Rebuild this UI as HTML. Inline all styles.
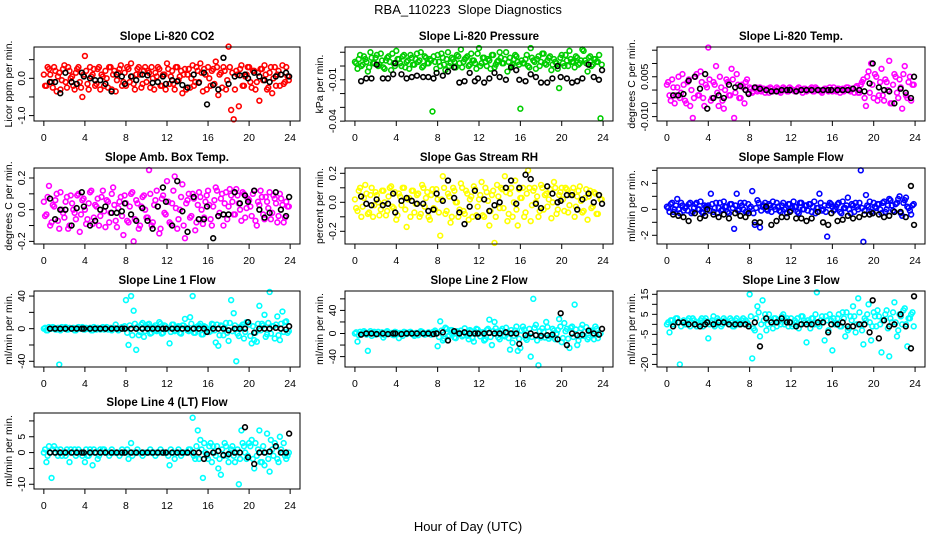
<!DOCTYPE html>
<html><head><meta charset="utf-8"><style>
html,body{margin:0;padding:0;background:#fff;}
svg{display:block;font-family:"Liberation Sans",Arial,sans-serif;}
</style></head><body>
<svg id="chart" width="936" height="540" viewBox="0 0 936 540" xmlns="http://www.w3.org/2000/svg">
<rect width="936" height="540" fill="#fff"/>
<text x="468" y="14" text-anchor="middle" font-size="13">RBA_110223&#160; Slope Diagnostics</text>
<text x="468" y="531" text-anchor="middle" font-size="13">Hour of Day (UTC)</text>
</svg>
<script>
const colorTimes = [0,.25,.5,.75,1,1.25,1.5,1.75,2,2.25,2.5,2.75,3,3.25,3.5,3.75,4,4.25,4.5,4.75,5,5.25,5.5,5.75,6,6.25,6.5,6.75,7,7.25,7.5,7.75,8,8.25,8.5,8.75,9,9.25,9.5,9.75,10,10.25,10.5,10.75,11,11.25,11.5,11.75,12,12.25,12.5,12.75,13,13.25,13.5,13.75,14,14.25,14.5,14.75,15,15.25,15.5,15.75,16,16.25,16.5,16.75,17,17.25,17.5,17.75,18,18.25,18.5,18.75,19,19.25,19.5,19.75,20,20.25,20.5,20.75,21,21.25,21.5,21.75,22,22.25,22.5,22.75,23,23.25,23.5,23.75];
const colorTimesB = [.12,.37,.62,.87,1.12,1.37,1.62,1.87,2.12,2.37,2.62,2.87,3.12,3.37,3.62,3.87,4.12,4.37,4.62,4.87,5.12,5.37,5.62,5.87,6.12,6.37,6.62,6.87,7.12,7.37,7.62,7.87,8.12,8.37,8.62,8.87,9.12,9.37,9.62,9.87,10.12,10.37,10.62,10.87,11.12,11.37,11.62,11.87,12.12,12.37,12.62,12.87,13.12,13.37,13.62,13.87,14.12,14.37,14.62,14.87,15.12,15.37,15.62,15.87,16.12,16.37,16.62,16.87,17.12,17.37,17.62,17.87,18.12,18.37,18.62,18.87,19.12,19.37,19.62,19.87,20.12,20.37,20.62,20.87,21.12,21.37,21.62,21.87,22.12,22.37,22.62,22.87,23.12,23.37,23.62,23.87];
const blackTimes = [0.6,1.1,1.6,2.1,2.7,3.2,3.7,3.9,4.5,5.0,5.5,6.0,6.6,7.1,7.6,7.9,8.5,9.0,9.6,10.1,10.6,11.1,11.6,11.9,12.5,13.0,13.5,14.0,14.6,15.1,15.6,15.9,16.5,17.0,17.5,18.0,18.6,19.1,19.6,19.9,20.5,21.0,21.5,22.0,22.6,23.1,23.6,23.9];
const xTicks = [0,4,8,12,16,20,24];

const co2Color = [0.1,-0.2,0.25,-0.1,0.3,-0.35,0.15,-0.05,0.35,-0.25,0.2,0.05,-0.3,0.25,-0.1,-0.5,0.6,-0.15,0.3,0.1,-0.2,0.25,-0.3,0.05,0.2,-0.25,0.3,0.1,-0.35,0.15,0.35,-0.1,-0.2,0.25,0.4,-0.15,0.1,0.3,-0.25,0.2,-0.1,0.15,0.3,-0.3,0.05,0.25,-0.2,0.1,0.4,-0.15,0.2,-0.3,0.3,0.05,-0.4,0.25,0.1,-0.25,0.35,-0.1,0.2,0.4,-0.35,0.1,0.3,-0.2,0.25,0.45,-0.45,0.15,0.3,-0.3,0.85,-0.85,-1.1,0.2,-0.75,0.35,-0.2,0.1,0.3,-0.25,0.2,-0.1,-0.6,0.25,0.35,-0.3,0.15,-0.4,0.3,0.1,-0.2,0.35,-0.1,0.05];
const co2ColorB = [-0.2,0.3,0.1,-0.25,0.2,0.05,-0.3,0.25,-0.1,0.3,0.0,-0.2,0.15,0.3,-0.25,0.1,0.2,-0.3,0.05,0.25,-0.15,0.3,0.1,-0.2,0.0,0.3,-0.3,0.2,-0.05,0.25,-0.2,0.15,0.3,-0.1,0.05,-0.3,0.25,0.1,-0.15,0.3,0.2,-0.25,0.0,0.15,0.3,-0.2,0.1,-0.3,0.25,0.05,-0.15,0.3,-0.05,0.2,0.1,-0.3,0.25,0.0,-0.2,0.3,-0.1,0.15,0.25,-0.3,0.0,0.2,-0.15,0.3,0.1,-0.25,0.2,-0.05,0.3,0.15,-0.3,0.1,0.25,-0.2,0.05,0.3,-0.1,0.2,-0.3,0.15,0.25,-0.05,0.1,-0.25,0.3,0.0,-0.2,0.2,0.1,-0.15,0.3,-0.05];
const co2Black = [-0.1,-0.1,-0.4,0.15,-0.1,-0.15,0.15,0.05,0,-0.05,-0.05,-0.15,-0.35,0.1,0.05,-0.15,0.05,-0.05,0.1,0.08,-0.12,-0.1,0.05,-0.15,-0.05,-0.08,-0.18,-0.25,0.1,-0.12,0.15,-0.7,-0.18,-0.3,0.55,-0.15,0.05,0.08,0.1,0,0.15,0.05,-0.05,-0.1,0.05,0.1,0.15,0.05];
const pressColor = [3,-2,8,1,5,-4,10,2,6,0,9,-1,4,7,-3,2,11,5,0,8,3,-2,6,1,9,4,-1,7,2,5,-33,3,8,0,6,-3,10,2,5,-1,7,12,3,6,0,9,4,-2,13,2,6,0,4,8,-1,3,10,2,5,-4,6,1,8,3,-31,2,5,0,13,4,-2,7,3,9,1,6,-3,5,2,-16,8,0,4,11,3,-1,6,2,12,4,-4,7,1,5,3,-38];
const pressColorB = [2,5,0,7,3,-1,6,2,8,1,4,-2,6,3,9,0,5,2,7,-1,4,8,1,5,3,10,0,6,2,4,7,-2,3,9,1,5,0,6,3,8,2,-1,5,7,1,4,2,9,0,6,3,5,-2,8,1,4,6,2,10,3,0,5,7,1,4,2,8,-1,6,3,5,0,9,2,4,7,1,3,-2,6,2,8,0,5,3,7,1,4,11,2,6,0,5,3,8,1];
const pressBlack = [-11,-9,-9,1,-9,-9,-6,2,-6,-9,-8,-7,-8,-8,-9,-5,-7,-4,-1,-12,-11,-5,-11,-9,-12,-9,-5,-8,-10,-1,-3,-10,-11,-6,-8,-12,-12,-9,0,-8,-9,-12,-11,-9,1,-8,-10,-3];
const tempColor = [2,-2,4,-5,1,-3,6,-4,3,-6,-10.5,5,-2,7,-3,2,16,-4,3,9,-6,1,-7,4,-2,8,-10.5,6,-3,2,-5,4,1,-1,0.5,-0.5,1,0,-1,0.5,1,-0.5,0,0.5,-1,1,0,-0.5,0.5,0,-0.5,1,0,0.5,-0.5,0,1,-0.5,0.5,0,-1,0.5,0,1,-0.5,0,0.5,-1,0.5,0,1,-0.5,0.5,1,-1,2,4,-6,7,10,-3,5,-2,8,-4,3,11,-5,6,-1,4,-7,9,-3,5,2];
const tempColorB = [3,-4,1,-2,5,-1,2,-5,4,0,-3,6,-2,3,-6,1,4,-3,2,-1,5,-4,0,3,-2,4,-1,2,-3,1,3,-1,0.5,-0.5,1,0,-0.5,0.5,0,-1,0.5,0,1,-0.5,0,0.5,-0.5,1,0,-0.5,0.5,0,-1,0.5,0,0.5,-0.5,1,0,-0.5,0,0.5,-0.5,0,1,-0.5,0.5,0,-0.5,1,0,0.5,-1,1.5,-1,3,-3,5,-1,2,6,-4,3,-2,4,0,-5,2,5,-3,1,6,-2,3,-4,2];
const tempBlack = [-2,-2,-1.5,3.5,5,0.5,6,-7,-3,-2,-3,2,1,1.5,0,-1.5,1,0.5,0,-0.5,-0.5,0,0,0,-0.5,0,0,0,0,0,0,0,0,0,0,0.5,0,-0.5,2.5,10,1,0,-0.5,-5,0.5,-1,-3,5];
const ambColor = [0.05,-0.03,0.15,-0.08,0.02,0.1,-0.12,0.0,-0.05,0.08,-0.1,0.04,-0.02,0.09,-0.14,0.06,0.0,-0.06,0.11,-0.09,0.03,0.07,-0.04,0.12,-0.11,0.05,-0.02,0.14,-0.07,0.01,0.08,-0.16,0.04,-0.08,0.1,-0.2,0.06,-0.12,0.02,0.09,-0.05,0.25,-0.1,0.03,0.12,-0.15,0.07,-0.02,0.18,-0.08,0.04,0.21,-0.12,0.0,0.16,-0.18,0.06,-0.05,0.1,-0.13,0.03,0.08,-0.09,0.05,0.12,-0.06,0.02,0.14,-0.04,0.07,-0.1,0.11,0.02,0.09,-0.03,0.13,0.04,-0.07,0.1,0.01,0.06,-0.04,0.12,-0.1,0.03,0.08,-0.06,0.05,0.11,-0.02,0.07,-0.08,0.1,0.03,-0.05,0.02];
const ambColorB = [-0.04,0.08,-0.1,0.03,0.06,-0.07,0.11,-0.02,0.05,-0.12,0.09,0.0,-0.06,0.1,-0.03,0.07,-0.09,0.04,0.12,-0.05,0.02,-0.1,0.08,-0.01,0.06,-0.08,0.1,0.03,-0.11,0.05,-0.04,0.09,-0.07,0.02,0.11,-0.06,0.04,-0.1,0.08,0.0,-0.05,0.1,-0.08,0.06,0.02,-0.12,0.09,-0.03,0.05,-0.09,0.12,0.01,-0.06,0.08,-0.1,0.04,0.1,-0.04,0.07,-0.08,0.11,0.0,-0.05,0.09,0.03,-0.1,0.06,0.12,-0.02,0.1,0.04,-0.06,0.13,0.05,-0.03,0.09,0.0,0.11,-0.05,0.07,0.02,0.1,-0.07,0.05,0.12,-0.03,0.08,0.01,-0.06,0.09,0.04,-0.04,0.07,-0.08,0.05,0.02];
const ambBlack = [0.07,-0.06,0.0,0.0,-0.1,0.01,0.11,0.02,-0.1,-0.07,0.0,0.02,-0.02,-0.02,-0.01,0.04,-0.03,-0.07,0.01,-0.07,-0.12,0.02,0.14,0.05,-0.1,0.18,-0.01,-0.14,0.08,-0.06,-0.06,0.02,-0.18,-0.04,-0.03,-0.03,0.11,0.04,0.09,0.05,0.12,0.0,-0.05,-0.02,0.11,0.0,-0.04,0.08];
const rhColor = [0.02,-0.06,0.1,-0.03,0.12,-0.08,0.05,-0.1,0.07,0.0,-0.05,0.08,-0.09,0.04,0.11,-0.04,-0.12,0.06,-0.02,0.1,-0.17,0.03,0.08,-0.07,0.05,-0.1,0.12,-0.03,0.07,-0.12,0.09,-0.05,0.02,-0.23,0.18,-0.08,0.06,-0.14,0.1,0.0,-0.1,0.13,-0.06,0.08,-0.12,0.04,0.11,-0.09,0.02,0.14,-0.1,0.07,-0.16,0.05,-0.28,0.12,-0.04,0.09,0.18,-0.13,0.06,-0.1,0.15,-0.16,0.03,0.1,-0.07,0.22,-0.13,0.08,0.0,-0.1,0.12,-0.05,0.06,0.02,-0.11,0.14,-0.08,0.05,0.1,-0.06,0.09,-0.02,0.07,-0.1,0.04,0.11,-0.07,0.03,-0.12,0.08,-0.03,0.06,-0.08,0.02];
const rhColorB = [-0.04,0.08,-0.1,0.03,0.06,-0.07,0.1,-0.02,0.05,-0.09,0.08,0.0,-0.06,0.1,-0.03,0.07,-0.09,0.04,0.1,-0.05,0.02,-0.1,0.08,-0.01,0.06,-0.08,0.1,0.03,-0.1,0.05,-0.04,0.09,-0.07,0.02,0.1,-0.06,0.04,-0.1,0.08,0.0,-0.05,0.1,-0.08,0.06,0.02,-0.1,0.09,-0.03,0.05,-0.09,0.1,0.01,-0.06,0.08,-0.1,0.04,0.1,-0.04,0.07,-0.08,0.1,0.0,-0.05,0.09,0.03,-0.1,0.06,0.1,-0.02,0.1,0.04,-0.06,0.1,0.05,-0.03,0.09,0.0,0.1,-0.05,0.07,0.02,0.1,-0.07,0.05,0.1,-0.03,0.08,0.01,-0.06,0.09,0.04,-0.04,0.07,-0.08,0.05,0.02];
const rhBlack = [0.04,-0.01,-0.02,0.02,-0.02,-0.01,0.06,-0.07,0.01,0.03,0.01,-0.01,-0.01,-0.06,-0.05,0.06,0.01,0.15,0.03,-0.07,-0.15,-0.03,0.08,-0.1,0.02,-0.06,-0.02,0.0,0.1,0.15,-0.01,0.1,0.19,0.16,-0.01,-0.04,0.11,0.06,0.0,0.01,0.05,0.05,-0.05,0.02,0.06,0.0,0.05,-0.01];
const flowColor = [0.2,-0.2,0.5,0.0,0.8,-0.3,0.3,0.1,-0.1,0.5,-0.2,0.4,0.0,0.6,-0.3,0.2,0.3,1.2,-0.2,0.5,0.1,-0.1,0.6,0.2,-0.3,0.4,-1.5,1.2,0.0,0.3,0.5,-0.2,0.1,1.4,-1.2,0.7,-1.4,0.2,0.5,-0.1,0.3,0.6,0.0,0.2,-0.2,0.5,0.1,0.4,-0.1,0.6,0.2,-0.3,0.5,0.0,0.3,0.4,-0.2,0.6,0.1,1.2,-0.1,0.3,-2.1,0.5,0.2,0.0,0.4,-0.2,0.6,0.1,0.9,-0.3,0.3,0.5,0.0,3.0,-2.5,1.1,0.2,-0.2,0.5,0.1,0.4,-0.3,0.6,0.0,0.8,0.3,-0.2,0.5,1.0,-0.5,0.7,0.2,-0.1,0.3];
const flowColorB = [0.1,0.4,-0.2,0.3,0.0,0.5,-0.1,0.2,0.4,-0.3,0.1,0.5,0.0,-0.2,0.3,0.2,-0.1,0.4,0.1,-0.3,0.5,0.0,0.2,-0.2,0.4,0.1,0.3,-0.1,0.5,0.0,-0.2,0.4,0.2,-0.3,0.1,0.5,-0.1,0.3,0.0,0.4,-0.2,0.2,0.5,-0.1,0.3,0.0,-0.3,0.4,0.1,0.2,-0.2,0.5,0.0,0.3,-0.1,0.4,0.2,-0.3,0.1,0.5,0.0,-0.2,0.3,0.4,-0.1,0.2,0.5,-0.3,0.1,0.3,0.0,0.4,-0.2,0.2,0.5,0.1,-0.1,0.3,0.6,-0.3,0.2,0.4,0.0,0.5,-0.2,0.3,0.7,-0.1,0.4,0.8,-0.3,0.5,0.9,0.1,-0.4,0.4];
const flowBlack = [-0.4,-0.5,-0.6,-0.9,-0.3,-0.7,-0.5,0.0,-0.4,-0.6,-0.4,-0.7,-0.3,-0.5,-0.6,-0.3,-1.0,-1.0,0.2,-1.2,-0.9,-0.6,-0.6,-0.2,-0.7,-0.7,-0.9,-0.7,-0.2,-1.0,-1.2,-0.3,-0.9,-0.8,-0.5,-0.7,-0.6,-0.4,-0.4,-0.3,-0.4,-0.6,-0.5,-0.2,-0.2,-0.6,1.8,-1.2];
const line1Color = [0,-2,2,0,1,-1,-44,2,0,-1,1,0,-2,1,0,2,-1,0,1,-2,0,1,-1,2,0,-1,1,0,5,-2,1,0,35,-20,40,22,-26,-8,5,-10,3,6,-5,2,-3,8,-6,4,0,-18,5,-3,2,-5,4,12,-2,14,40,-5,3,6,-7,2,0,-3,5,-17,-21,4,-8,7,-15,35,19,-40,-9,3,-12,8,5,-18,-14,-16,28,6,17,-7,45,3,-12,15,-14,21,8,-5];
const line1ColorB = [1,-2,0,2,-1,1,-2,0,2,-1,0,1,-2,2,0,-1,1,0,-2,2,-1,0,1,-1,2,0,-2,1,0,-1,2,3,-5,4,-8,6,2,-4,7,-3,5,-6,1,4,-2,6,-5,3,0,-4,5,-2,3,-6,4,1,-3,6,-5,2,4,-7,3,0,-4,6,-2,5,-8,3,1,-5,7,-3,4,-6,2,5,-4,8,-9,3,-5,6,-2,4,-10,7,-6,3,5,-8,6,-4,9,-3];
const line1Black = [0,0,0,0,0,0,0,0,0,0,0,0,0,0,0,0,0,0,0,0,0,0,0,0,0,0,0,0,0,0,0,-4,0,0,0,-2,0,0,0,8,-5,0,0,0,1,0,-1,3];
const line2Color = [0,-14,3,0,2,-30,4,1,-2,3,0,-7,2,0,1,-3,2,-8,0,3,-1,2,0,-4,1,0,3,-2,1,0,2,5,-22,21,-12,10,-5,6,3,-8,2,5,-3,0,-10,4,-14,8,0,2,-12,6,24,-20,20,3,-10,8,-5,0,-28,-16,5,-30,-25,12,-8,-4,-40,60,15,-55,-7,3,20,-9,-5,5,0,25,-15,18,8,-25,12,50,-20,-5,15,3,-10,5,-3,12,-8,0];
const line2ColorB = [2,-3,0,4,-2,1,-4,3,0,-1,2,-3,4,0,-2,3,-1,1,-4,2,0,3,-2,1,-3,4,0,-1,2,-2,3,1,-6,5,-9,8,-3,6,-7,4,1,-5,9,-4,6,-8,3,7,-5,2,-10,8,-6,4,9,-7,5,-3,10,-8,6,-4,12,-9,5,7,-11,8,-6,10,-12,4,9,-7,11,-5,8,-10,6,12,-8,4,-9,10,-6,7,-12,9,-4,11,-7,5,-10,8];
const line2Black = [-2,0,0,-1,0,-1,0,0,-1,0,0,0,0,0,-1,0,2,-12,4,0,2,0,0,0,0,1,0,0,2,0,0,-18,-3,0,-3,-4,-3,-2,-10,35,-20,0,-3,-2,5,0,-2,8];
const line3Color = [0,-4,2,1,3,-20,1,0,2,-1,3,0,1,2,-1,3,-7,1,4,0,2,-1,3,1,0,2,-1,3,1,2,0,1,15,-17,-3,9,-6,12,5,0,2,-2,3,1,0,5,2,-1,3,0,1,-2,4,2,-9,1,3,0,16,-1,4,-8,2,5,-13,0,3,-1,6,-6,-3,4,9,-4,13,0,-10,2,10,-8,6,-1,4,-14,2,7,-16,1,11,-6,5,0,8,-11,3,6];
const line3ColorB = [1,2,0,3,1,-1,2,0,3,1,2,-1,0,3,2,1,0,2,-1,3,1,0,2,1,3,-1,2,0,1,3,2,0,4,-2,3,6,0,2,-3,5,1,3,-1,2,4,0,3,1,-1,2,3,0,4,1,2,-2,3,5,0,2,1,4,-3,2,3,0,5,-1,3,6,-2,2,4,0,6,-3,3,5,1,-1,4,7,0,2,5,-2,3,6,1,-3,4,7,0,3,5,-1];
const line3Black = [-1,1,1,0,0,-1,0,1,0,1,1,0,0,0,0,-1,1,-11,3,1,1,3,1,1,-1,0,0,0,1,1,-4,0,0,1,-1,-1,0,0,-4,12,-7,2,-1,0,5,-1,-12,14];
const line4Color = [0,-3,2,-8,2,1,0,-1,0,1,-3,0,1,0,0,-1,-3,-1,1,-4,0,-2,1,1,0,0,0,0,0,0,0,0,0,-2,3,0,0,0,0,0,0,0,0,0,0,0,0,0,0,-4,0,-2,0,0,0,0,0,1,11,-2,7,4,-8,0,-2,3,2,-1,-5,-7,-1,2,-3,1,-1,0,-10,7,2,-2,3,4,-5,-1,7,-3,-4,6,-6,1,3,-2,5,0,-1,-1];
const line4ColorB = [1,-1,0,1,0,-1,1,0,-1,0,1,0,-1,1,0,0,1,-1,0,1,0,-1,0,1,0,-1,1,0,0,-1,1,0,1,0,-1,0,1,0,-1,0,0,1,0,-1,0,1,0,0,-1,1,0,0,1,-1,0,0,1,0,-1,2,-2,1,3,-1,2,-3,0,2,-2,1,3,-1,0,2,-3,1,-2,3,0,-1,2,-2,3,1,-3,2,0,-2,4,-1,2,-3,1,3,-2,0];
const line4Black = [0,0,0,0,0,0,0,0,0,0,0,0,0,0,0,0,0,0,0,0,0,0,0,0,0,0,0,0,0,0,-2,-0.5,0,0.5,-0.8,-0.5,0,0,8,-1.5,-3.6,0,0,0.3,2,0,0,6];

const panelTitles = ["Slope Li-820 CO2","Slope Li-820 Pressure","Slope Li-820 Temp.","Slope Amb. Box Temp.","Slope Gas Stream RH","Slope Sample Flow","Slope Line 1 Flow","Slope Line 2 Flow","Slope Line 3 Flow","Slope Line 4 (LT) Flow"];
const yTitles = ["Licor ppm per min.","kPa per min.","degrees C per min.","degrees C per min.","percent per min.","ml/min per min.","ml/min per min.","ml/min per min.","ml/min per min.","ml/min per min."];
const yDomains = [[-1.145,0.84],[-39.9,13.8],[-11.65,16.2],[-0.2165,0.263],[-0.2876,0.2366],[-2.67,3.18],[-47,46.2],[-58,73.6],[-21.3,16.65],[-11.5,12.5]];
const yTickVals = [[-1,-0.5,0,0.5],[10,0,-10,-20,-30,-40],[15,10,5,0,-5,-10],[0.2,0.1,0,-0.1,-0.2],[0.2,0.1,0,-0.1,-0.2],[3,2,1,0,-1,-2],[40,20,0,-20,-40],[60,40,20,0,-20,-40],[15,10,5,0,-5,-10,-15,-20],[10,5,0,-5,-10]];
const yTickLabels = [{"-1":"-1.0","0":"0.0"},{"-10":"-0.01","-40":"-0.04"},{"5":"0.005","-10":"-0.010"},{"0.2":"0.2","0":"0.0","-0.2":"-0.2"},{"0.2":"0.2","0":"0.0","-0.2":"-0.2"},{"2":"2","0":"0","-2":"-2"},{"40":"40","0":"0","-40":"-40"},{"40":"40","0":"0","-40":"-40"},{"15":"15","5":"5","-5":"-5","-20":"-20"}, {"5":"5","0":"0","-10":"-10"}];
const colorSeries = [co2Color,pressColor,tempColor,ambColor,rhColor,flowColor,line1Color,line2Color,line3Color,line4Color];
const colorSeriesB = [co2ColorB,pressColorB,tempColorB,ambColorB,rhColorB,flowColorB,line1ColorB,line2ColorB,line3ColorB,line4ColorB];
const blackSeries = [co2Black,pressBlack,tempBlack,ambBlack,rhBlack,flowBlack,line1Black,line2Black,line3Black,line4Black];
const seriesColors = ["#ff0000","#00cd00","#ff00ff","#ff00ff","#ffff00","#0000ff","#00ffff","#00ffff","#00ffff","#00ffff"];
const slugs = ["co2","pressure","licor-temp","amb-box-temp","gas-stream-rh","sample-flow","line1-flow","line2-flow","line3-flow","line4-flow"];

const NS="http://www.w3.org/2000/svg";
const svg=document.getElementById('chart');
const rowTop=[47,168,291,413], rowBot=[121,244,367,489];
const colL=[34,345,657], colR=[300,613,925];
function mk(tag,attrs,parent){const e=document.createElementNS(NS,tag);for(const k in attrs)e.setAttribute(k,attrs[k]);(parent||svg).appendChild(e);return e;}

for(let p=0;p<10;p++){
  const r=Math.floor(p/3), c=p%3;
  const L=colL[c],R=colR[c],T=rowTop[r],B=rowBot[r];
  const g=mk('g',{});
  
  
  const xs=h=>L+(h+0.96)/25.92*(R-L);
  const dom=yDomains[p];
  const ys=v=>B-(v-dom[0])/(dom[1]-dom[0])*(B-T);
  const t=mk('text',{x:(L+R)/2,y:T-7,'text-anchor':'middle','font-size':'11.5','font-weight':'bold'},g);
  t.textContent=panelTitles[p];
  
  
  const yt=mk('text',{x:0,y:0,'text-anchor':'middle','font-size':'10.5',transform:`translate(${L-22},${(T+B)/2}) rotate(-90)`},g);
  yt.textContent=yTitles[p];
  
  
  const xa=mk('g',{stroke:'#000','stroke-width':'1'},g);
  
  
  mk('line',{x1:xs(0),x2:xs(24),y1:B,y2:B},xa);
  xTicks.forEach(h=>{
    mk('line',{x1:xs(h),x2:xs(h),y1:B,y2:B+5},xa);
    const lb=mk('text',{x:xs(h),y:B+20,'text-anchor':'middle','font-size':'10.5',stroke:'none',fill:'#000'},g);
    lb.textContent=h;
    
    
  });
  const ya=mk('g',{stroke:'#000','stroke-width':'1'},g);
  
  
  const tv=yTickVals[p];
  mk('line',{x1:L,x2:L,y1:ys(Math.min(...tv)),y2:ys(Math.max(...tv))},ya);
  tv.forEach(v=>{
    mk('line',{x1:L-5,x2:L,y1:ys(v),y2:ys(v)},ya);
    const s=yTickLabels[p][String(v)];
    if(s!==undefined){
      const lb=mk('text',{x:0,y:0,'text-anchor':'middle','font-size':'10.5',transform:`translate(${L-9},${ys(v)}) rotate(-90)`},g);
      lb.textContent=s;
      
      
    }
  });
  const cg=mk('g',{fill:'none',stroke:seriesColors[p],'stroke-width':'1.6'},g);
  
  
  const cs=colorSeries[p];
  for(let i=0;i<Math.min(cs.length,colorTimes.length);i++){
    const pt=mk('circle',{cx:xs(colorTimes[i]),cy:ys(cs[i]),r:2.4},cg);
    
    
  }
  const cb=colorSeriesB[p];
  for(let i=0;i<Math.min(cb.length,colorTimesB.length);i++){
    const pt=mk('circle',{cx:xs(colorTimesB[i]),cy:ys(cb[i]),r:2.4},cg);
    
    
  }
  const bs=blackSeries[p];
  const bg=mk('g',{fill:'none',stroke:'#000','stroke-width':'1.6'},g);
  
  
  for(let i=0;i<Math.min(bs.length,blackTimes.length);i++){
    const pt=mk('circle',{cx:xs(blackTimes[i]),cy:ys(bs[i]),r:2.4},bg);
    
    
  }
  const box=mk('rect',{x:L,y:T,width:R-L,height:B-T,fill:'none',stroke:'#000','stroke-width':'1'},g);
  
  
}
</script>
</body></html>
